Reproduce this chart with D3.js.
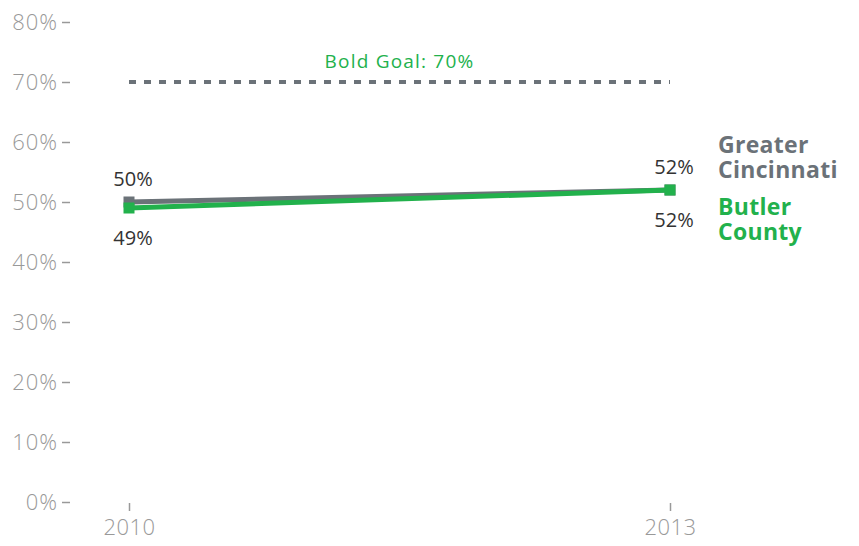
<!DOCTYPE html>
<html>
<head>
<meta charset="utf-8">
<script src="https://cdn.jsdelivr.net/npm/d3@7"></script>
<style>
  body { margin: 0; background: #fff; }
  text { font-family: "Open Sans", "Noto Sans", sans-serif; }
</style>
</head>
<body>
<svg id="chart"></svg>
<script>
const years = [2010, 2013];
const seriesNames = ["Greater Cincinnati", "Butler County"];
const cincinnati = [50, 52];
const butler = [49, 52];
const goal = 70;
const yTicks = [0, 10, 20, 30, 40, 50, 60, 70, 80];

const width = 859, height = 546;
const gray = "#6b7278", green = "#22b14c";

const svg = d3.select("#chart")
  .attr("width", width)
  .attr("height", height);

const x = d3.scalePoint()
  .domain(years)
  .range([129, 670]);

const y = d3.scaleLinear()
  .domain([0, 80])
  .range([502, 22]);

// y axis
const yAxis = svg.append("g")
  .attr("transform", "translate(70,0)")
  .call(d3.axisLeft(y).tickValues(yTicks).tickSize(8).tickPadding(4).tickFormat(d => d + "%"));
yAxis.select(".domain").remove();
yAxis.selectAll("line").attr("stroke", "#999").attr("stroke-width", 1.5);
yAxis.selectAll("text").attr("fill", "#999").style("font-size", "22px").style("font-weight", 300)
  .style("letter-spacing", "1px");

// x axis
const xAxis = svg.append("g")
  .attr("transform", "translate(0,503)")
  .call(d3.axisBottom(x).tickSize(8).tickPadding(8));
xAxis.select(".domain").remove();
xAxis.selectAll("line").attr("stroke", "#999").attr("stroke-width", 1.5);
xAxis.selectAll("text").attr("fill", "#999").style("font-size", "22px").style("font-weight", 300)
  .style("letter-spacing", "0.5px");

// goal line
svg.append("line")
  .attr("x1", x(years[0]))
  .attr("x2", x(years[1]))
  .attr("y1", y(goal))
  .attr("y2", y(goal))
  .attr("stroke", gray)
  .attr("stroke-width", 4)
  .attr("stroke-dasharray", "7,8");

svg.append("text")
  .attr("x", (x(years[0]) + x(years[1])) / 2)
  .attr("y", y(goal) - 14)
  .attr("text-anchor", "middle")
  .attr("fill", green)
  .style("font-size", "19px")
  .style("letter-spacing", "1.2px")
  .text("Bold Goal: " + goal + "%");

const line = d3.line()
  .x((d, i) => x(years[i]))
  .y(d => y(d));

const series = [
  { name: seriesNames[0], values: cincinnati, color: gray },
  { name: seriesNames[1], values: butler, color: green }
];

series.forEach(s => {
  svg.append("path")
    .datum(s.values)
    .attr("d", line)
    .attr("fill", "none")
    .attr("stroke", s.color)
    .attr("stroke-width", 5);

  svg.selectAll(null)
    .data(s.values)
    .enter()
    .append("rect")
    .attr("x", (d, i) => x(years[i]) - 5.5)
    .attr("y", d => y(d) - 5.5)
    .attr("width", 11)
    .attr("height", 11)
    .attr("fill", s.color);
});

// value labels: Cincinnati above, Butler below
cincinnati.forEach((v, i) => {
  svg.append("text")
    .attr("x", x(years[i]) + 4)
    .attr("y", y(v) - 16)
    .attr("text-anchor", "middle")
    .attr("fill", "#333")
    .style("font-size", "20px")
    .text(v + "%");
});
butler.forEach((v, i) => {
  svg.append("text")
    .attr("x", x(years[i]) + 4)
    .attr("y", y(v) + 37)
    .attr("text-anchor", "middle")
    .attr("fill", "#333")
    .style("font-size", "20px")
    .text(v + "%");
});

// series labels on the right
const labels = [
  { lines: ["Greater", "Cincinnati"], color: gray, y: 153 },
  { lines: ["Butler", "County"], color: green, y: 215 }
];
labels.forEach(l => {
  const t = svg.append("text")
    .attr("x", 718)
    .attr("y", l.y)
    .attr("fill", l.color)
    .style("font-size", "23px")
    .style("font-weight", "bold")
    .style("letter-spacing", "0.3px");
  l.lines.forEach((s, i) => {
    t.append("tspan")
      .attr("x", 718)
      .attr("dy", i === 0 ? 0 : 25)
      .text(s);
  });
});
</script>
</body>
</html>
